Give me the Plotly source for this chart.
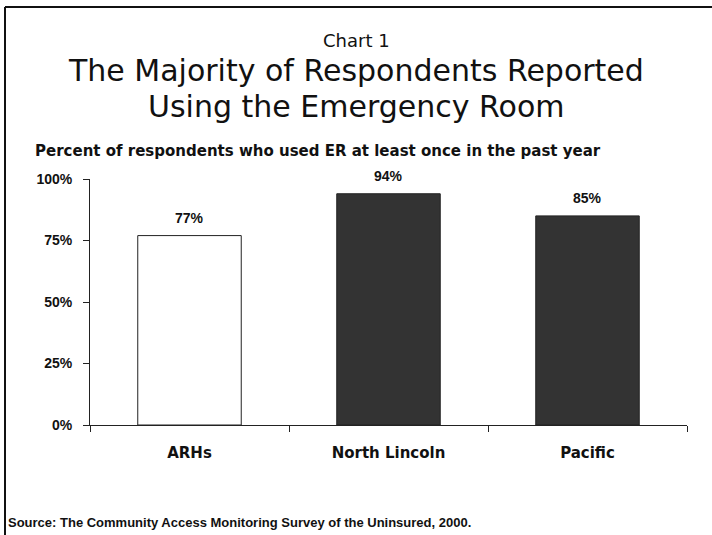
import plotly.graph_objects as go

# Survey results: share of respondents who used the ER at least once
categories = ["ARHs", "North Lincoln", "Pacific"]
percent_used_er = [77, 94, 85]
bar_fills = ["#FFFFFF", "#333333", "#333333"]
value_labels = ["77%", "94%", "85%"]
y_ticks = [0, 25, 50, 75, 100]
y_tick_labels = ["0%", "25%", "50%", "75%", "100%"]

W, H = 712, 535
L, R, T, B = 90, 25, 179, 110
plot_w, plot_h = W - L - R, H - T - B


def px_x(x):
    return (x - L) / plot_w


def px_y(y):
    return (H - B - y) / plot_h


fig = go.Figure()
fig.add_trace(go.Bar(
    x=categories,
    y=percent_used_er,
    marker=dict(color=bar_fills, line=dict(color="#222222", width=1)),
    width=0.52,
    hoverinfo="skip",
))

arial = "Liberation Sans"
wide = "DejaVu Sans"
center_shift = W / 2 - (L + plot_w / 2)

annotations = []
for cat, val, lab in zip(categories, percent_used_er, value_labels):
    annotations.append(dict(
        x=cat, y=val, xref="x", yref="y", text=f"<b>{lab}</b>",
        showarrow=False, yanchor="middle", yshift=18,
        font=dict(family=arial, size=14, color="#111111"),
    ))

# Heading block
annotations += [
    dict(x=0.5, y=px_y(40), xref="paper", yref="paper", xanchor="center",
         yanchor="middle", text="Chart 1", showarrow=False,
         font=dict(family=wide, size=18, color="#111111"),
         xshift=center_shift),
    dict(x=0.5, y=px_y(70), xref="paper", yref="paper", xanchor="center",
         yanchor="middle", text="The Majority of Respondents Reported",
         showarrow=False,
         font=dict(family=wide, size=30, color="#111111"),
         xshift=center_shift),
    dict(x=0.5, y=px_y(106), xref="paper", yref="paper", xanchor="center",
         yanchor="middle", text="Using the Emergency Room",
         showarrow=False,
         font=dict(family=wide, size=30, color="#111111"),
         xshift=center_shift),
    dict(x=px_x(33), y=px_y(151), xref="paper", yref="paper", xanchor="left",
         yanchor="middle",
         text="<b>Percent of respondents who used ER at least once in the past year</b>",
         showarrow=False, font=dict(family=wide, size=15, color="#111111")),
    dict(x=px_x(6), y=px_y(522), xref="paper", yref="paper", xanchor="left",
         yanchor="middle",
         text="<b>Source: The Community Access Monitoring Survey of the Uninsured, 2000.</b>",
         showarrow=False, font=dict(family=arial, size=13, color="#111111")),
]

# Frame along the top and left edges
shapes = [
    dict(type="line", xref="paper", yref="paper", x0=px_x(5), x1=px_x(712),
         y0=px_y(7), y1=px_y(7), line=dict(color="#111111", width=2)),
    dict(type="line", xref="paper", yref="paper", x0=px_x(5), x1=px_x(5),
         y0=px_y(7), y1=px_y(535), line=dict(color="#111111", width=2)),
]

fig.update_layout(
    width=W, height=H,
    margin=dict(l=L, r=R, t=T, b=B),
    paper_bgcolor="white", plot_bgcolor="white",
    showlegend=False,
    annotations=annotations,
    shapes=shapes,
    bargap=0.48,
)
fig.update_xaxes(
    type="category",
    showline=True, linecolor="#222222", linewidth=1,
    ticks="outside", tickson="boundaries", ticklen=6, tickcolor="#222222",
    ticklabelstandoff=14,
    tickfont=dict(family=wide, size=15, color="#111111", weight="bold"),
    showgrid=False, zeroline=False,
)
fig.update_yaxes(
    range=[0, 100],
    tickvals=y_ticks, ticktext=y_tick_labels,
    showline=True, linecolor="#222222", linewidth=1,
    ticks="outside", ticklen=6, tickcolor="#222222",
    ticklabelstandoff=8,
    tickfont=dict(family=arial, size=14, color="#111111", weight="bold"),
    showgrid=False, zeroline=False,
)

fig.write_html("out.html")
